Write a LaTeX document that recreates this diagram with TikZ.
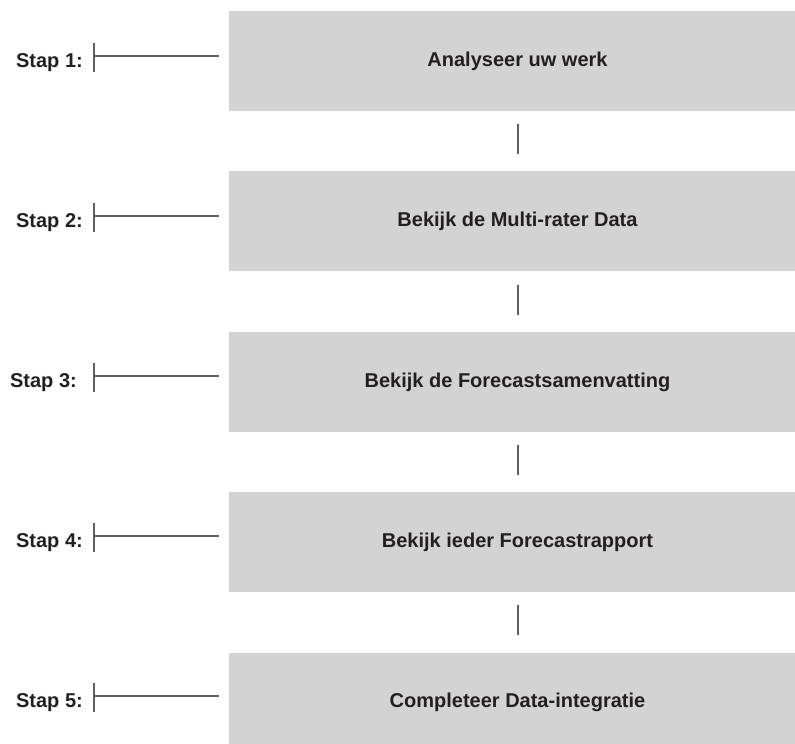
\documentclass[tikz,border=0pt]{standalone}
\usepackage{fontspec}
\setmainfont{Liberation Sans}
\usepackage{xcolor}
\usetikzlibrary{positioning}

\definecolor{boxgray}{HTML}{D3D3D3}
\definecolor{linegray}{HTML}{5E5E5E}
\definecolor{textdark}{HTML}{231F20}

\begin{document}
\begin{tikzpicture}[x=1pt, y=1pt, node distance=60pt,
    stepbox/.style={rectangle, fill=boxgray, minimum width=577pt, minimum height=100pt, inner sep=0pt, text height=14.5pt, text depth=4pt, text=textdark, font=\fontsize{20}{24}\selectfont\bfseries},
    steplabel/.style={anchor=base east, inner sep=0pt, text=textdark, font=\fontsize{20}{24}\selectfont\bfseries},
    link/.style={draw=linegray, line width=2pt}]

    \clip (0,0) rectangle (795,-744);

    \node [stepbox] at (517.5,-61) (box1) {Analyseer uw werk};
    \node [stepbox, below=of box1] (box2) {Bekijk de Multi-rater Data};
    \node [stepbox, below=of box2] (box3) {Bekijk de Forecastsamenvatting};
    \node [stepbox, below=of box3] (box4) {Bekijk ieder Forecastrapport};
    \node [stepbox, below=of box4] (box5) {Completeer Data-integratie};

    \draw [link, shorten <=13pt, shorten >=17pt] (box1) -- (box2);
    \draw [link, shorten <=13pt, shorten >=17pt] (box2) -- (box3);
    \draw [link, shorten <=13pt, shorten >=17pt] (box3) -- (box4);
    \draw [link, shorten <=13pt, shorten >=17pt] (box4) -- (box5);

    % step labels with their brackets
    \node [steplabel] at (83,-67) (lab1) {Stap 1:};
    \node [steplabel] at (83,-227) (lab2) {Stap 2:};
    \node [steplabel] at (77,-387) (lab3) {Stap 3:};
    \node [steplabel] at (83,-547) (lab4) {Stap 4:};
    \node [steplabel] at (83,-707) (lab5) {Stap 5:};

    \coordinate (tick1) at (94,-56);
    \coordinate (tick2) at (94,-216);
    \coordinate (tick3) at (94,-376);
    \coordinate (tick4) at (94,-536);
    \coordinate (tick5) at (94,-696);

    \draw [link, shorten >=10pt] (tick1) -- (box1.west |- tick1);
    \draw [link, shorten >=10pt] (tick2) -- (box2.west |- tick2);
    \draw [link, shorten >=10pt] (tick3) -- (box3.west |- tick3);
    \draw [link, shorten >=10pt] (tick4) -- (box4.west |- tick4);
    \draw [link, shorten >=10pt] (tick5) -- (box5.west |- tick5);

    \draw [link] ([yshift=13pt]tick1) -- ([yshift=-16pt]tick1);
    \draw [link] ([yshift=13pt]tick2) -- ([yshift=-16pt]tick2);
    \draw [link] ([yshift=13pt]tick3) -- ([yshift=-16pt]tick3);
    \draw [link] ([yshift=13pt]tick4) -- ([yshift=-16pt]tick4);
    \draw [link] ([yshift=13pt]tick5) -- ([yshift=-16pt]tick5);
\end{tikzpicture}
\end{document}
